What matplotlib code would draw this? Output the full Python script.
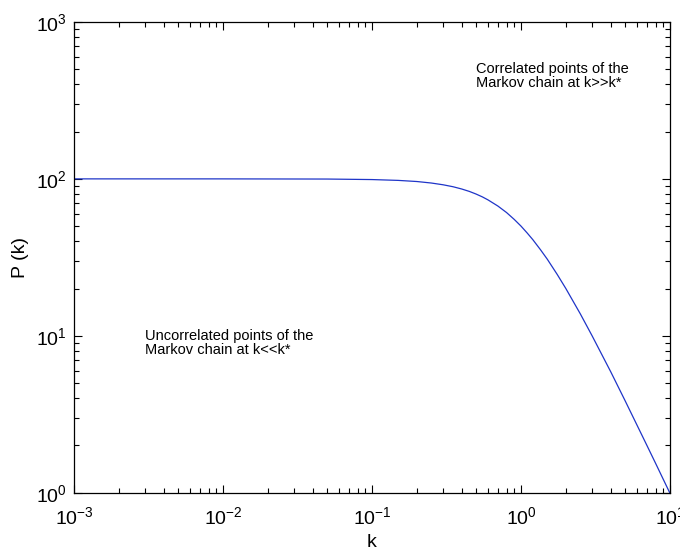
import numpy as np
import matplotlib
matplotlib.use('Agg')
import matplotlib.pyplot as plt

# values
k = [0.001, 0.01, 0.05, 0.1, 0.15, 0.2, 0.25, 0.3, 0.35, 0.4, 0.45, 0.5, 0.55, 0.6,
     0.7, 0.8, 0.9, 1.0, 1.1, 1.2, 1.35, 1.5, 1.75, 2.0, 2.5, 3.0, 4.0, 5.0, 6.0,
     7.0, 8.0, 10.0]
P = [100, 99.99, 99.75, 99.0, 97.8, 96.2, 94.1, 91.7, 89.1, 86.2, 83.2, 80.0, 76.8, 73.5,
     67.1, 61.0, 55.2, 50.0, 45.2, 41.0, 35.4, 30.8, 24.6, 20.0, 13.8, 10.0, 5.9, 3.85, 2.7,
     2.0, 1.54, 0.99]

label_low = 'Uncorrelated points of the\nMarkov chain at k<<k*'
label_high = 'Correlated points of the\nMarkov chain at k>>k*'

plt.rcParams['font.family'] = ['Liberation Sans', 'DejaVu Sans']
plt.rcParams['mathtext.fontset'] = 'custom'
plt.rcParams['mathtext.rm'] = 'Liberation Sans'
plt.rcParams['mathtext.it'] = 'Liberation Sans:italic'
plt.rcParams['mathtext.default'] = 'regular'

fig = plt.figure(figsize=(6.8, 5.55), dpi=100)
ax = fig.add_axes([0.1088, 0.1123, 0.8765, 0.8481])

ax.loglog(k, P, color='#1f35c8', linewidth=0.9)
ax.set_xlim(1e-3, 10)
ax.set_ylim(1, 1e3)

ax.tick_params(which='both', direction='in', top=True, right=True, width=0.8)
ax.tick_params(which='major', length=6, labelsize=14)
ax.tick_params(axis='x', which='major', pad=10)
ax.tick_params(axis='y', which='major', pad=5)
ax.tick_params(which='minor', length=3.5)
for s in ax.spines.values():
    s.set_linewidth(0.9)

ax.set_xlabel('k', fontsize=14, labelpad=4)
ax.set_ylabel('P (k)', fontsize=14, labelpad=5)

ax.text(3e-3, 9.0, label_low, fontsize=10.5, va='center', ha='left', linespacing=1.0)
ax.text(0.5, 450, label_high, fontsize=10.5, va='center', ha='left', linespacing=1.0)

fig.savefig('out.png', dpi=100)
